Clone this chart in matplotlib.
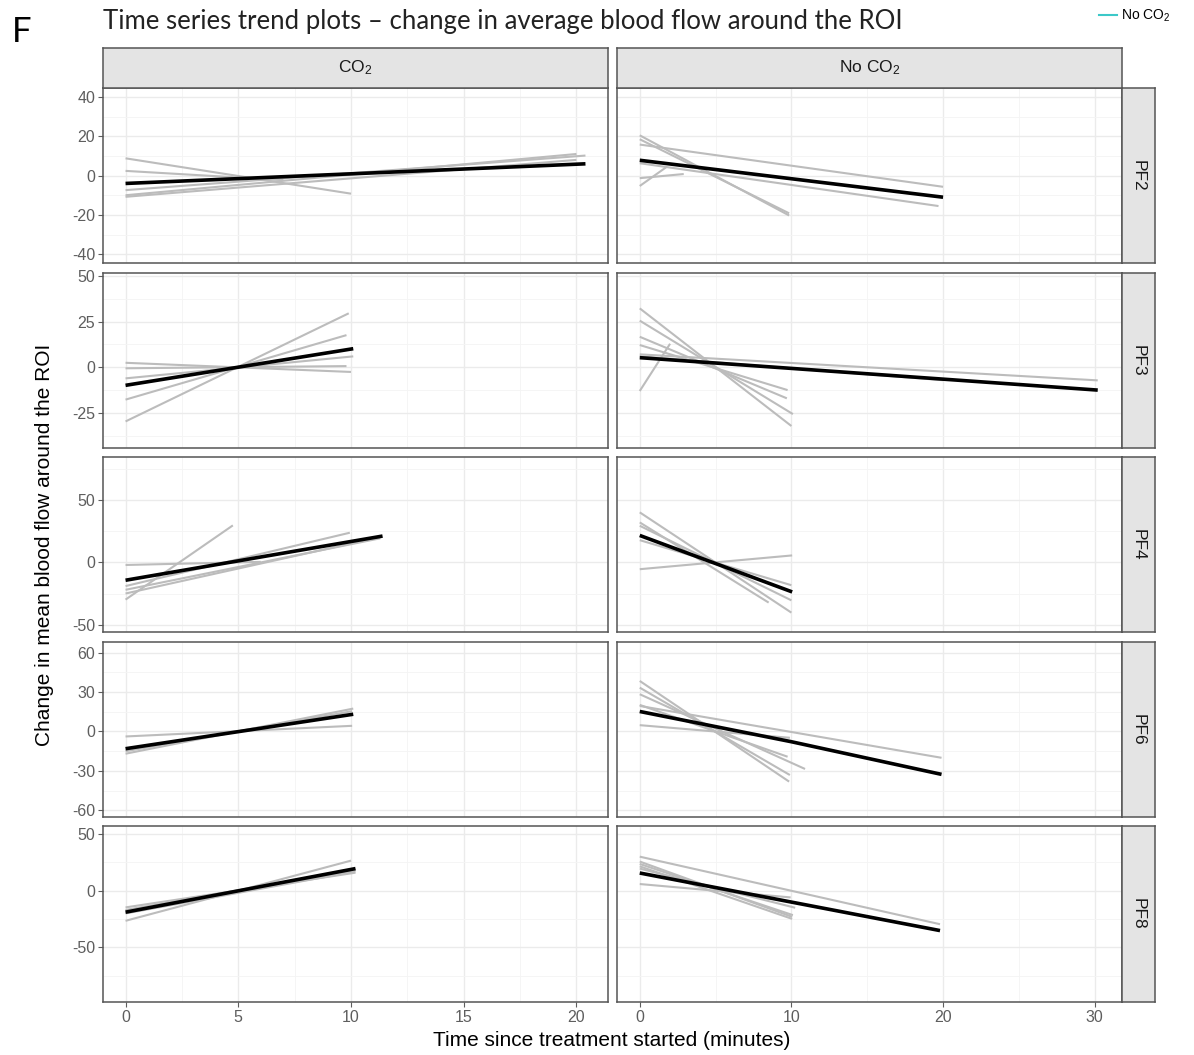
import matplotlib
matplotlib.use("Agg")
import matplotlib.pyplot as plt
from matplotlib.lines import Line2D
from matplotlib.ticker import FixedLocator

plt.rcParams['font.family'] = ['Liberation Sans', 'DejaVu Sans']
plt.rcParams['mathtext.fontset'] = 'custom'
plt.rcParams['mathtext.rm'] = 'Liberation Sans'
plt.rcParams['mathtext.it'] = 'Liberation Sans'
plt.rcParams['axes.unicode_minus'] = False

# ---------------- data ----------------
row_labels = ["PF2", "PF3", "PF4", "PF6", "PF8"]
col_labels = ["CO$_2$", "No CO$_2$"]
legend_label = "No CO$_2$"

x_ticks_co2 = [0, 5, 10, 15, 20]
x_ticks_noco2 = [0, 10, 20, 30]
x_lim_co2 = (-1.0, 21.4)
x_lim_noco2 = (-1.5, 31.8)

y_ticks_pf2 = [-40, -20, 0, 20, 40]
y_ticks_pf3 = [-25, 0, 25, 50]
y_ticks_pf4 = [-50, 0, 50]
y_ticks_pf6 = [-60, -30, 0, 30, 60]
y_ticks_pf8 = [-50, 0, 50]
y_lim_pf2 = (-44.5, 44.6)
y_lim_pf3 = (-44.0, 51.5)
y_lim_pf4 = (-56.0, 85.0)
y_lim_pf6 = (-65.0, 68.0)
y_lim_pf8 = (-98.0, 57.0)

# individual trend lines: (x_start, x_end, y_start, y_end)
pf2_co2_gray = [(0, 10, 8.8, -9.2), (0, 7, 2.4, -2.3), (0, 20.4, -7.4, 10.2),
                (0, 20, -10.0, 11.0), (0, 20, -10.8, 8.0)]
pf2_noco2_gray = [(0, 9.85, 20.5, -20.3), (0, 9.85, 18.5, -19.2), (0, 20, 15.8, -5.7),
                  (0, 19.7, 6.3, -15.5), (0, 1.75, -5.3, 4.3), (0, 2.9, -1.3, 0.8)]
pf3_co2_gray = [(0, 9.9, -29.5, 29.5), (0, 9.8, -17.6, 17.6), (0, 10.1, -6.0, 6.0),
                (0, 9.8, -0.5, 0.7), (0, 10.0, 2.5, -2.5)]
pf3_noco2_gray = [(0, 30.2, 7.1, -7.1), (0, 20, 6.0, -7.0), (0, 10, 32.2, -32.0),
                  (0, 10.1, 25.5, -25.5), (0, 9.7, 16.7, -16.9), (0, 9.75, 12.2, -12.4),
                  (0, 2.0, -12.9, 12.9)]
pf4_co2_gray = [(0, 4.76, -29.9, 29.9), (0, 9.95, -19.0, 24.0), (0, 11.3, -22.0, 19.5),
                (0, 11.3, -25.0, 20.5), (0, 6.0, -2.0, 0.5)]
pf4_noco2_gray = [(0, 10, 40.4, -40.4), (0, 8.5, 32.3, -32.3), (0, 10, 29.6, -30.5),
                  (0, 10, 18.0, -18.3), (0, 10.05, -5.4, 5.7)]
pf6_co2_gray = [(0, 10.1, -16.9, 17.4), (0, 10.05, -15.0, 15.4), (0, 10.05, -3.8, 4.3)]
pf6_noco2_gray = [(0, 19.9, 19.4, -20.0), (0, 9.85, 38.4, -38.1), (0, 9.9, 33.3, -33.1),
                  (0, 10.9, 28.3, -28.5), (0, 9.75, 20.2, -19.2), (0, 9.9, 4.8, -4.8)]
pf8_co2_gray = [(0, 10, -26.5, 26.5), (0, 10.2, -14.7, 15.9), (0, 10.2, -17.0, 18.3),
                (0, 10.2, -20.0, 17.0)]
pf8_noco2_gray = [(0, 19.8, 30.0, -29.5), (0, 10.05, 25.7, -23.0), (0, 10.1, 23.6, -21.5),
                  (0, 10.05, 21.5, -24.8), (0, 10.25, 19.5, -15.0), (0, 9.95, 5.9, -5.9)]

# overall trend (black): x points and y points
pf2_co2_x, pf2_co2_y = [0, 20.4], [-4.0, 6.0]
pf2_noco2_x, pf2_noco2_y = [0, 20], [7.8, -11.0]
pf3_co2_x, pf3_co2_y = [0, 10.1], [-9.8, 10.2]
pf3_noco2_x, pf3_noco2_y = [0, 30.2], [5.3, -12.4]
pf4_co2_x, pf4_co2_y = [0, 11.4], [-14.3, 21.3]
pf4_noco2_x, pf4_noco2_y = [0, 10.05], [21.8, -23.7]
pf6_co2_x, pf6_co2_y = [0, 10.1], [-13.1, 13.1]
pf6_noco2_x, pf6_noco2_y = [0, 10, 19.9], [15.2, -7.8, -32.6]
pf8_co2_x, pf8_co2_y = [0, 10.2], [-18.9, 19.5]
pf8_noco2_x, pf8_noco2_y = [0, 19.8], [15.6, -35.1]

gray_sets = [[pf2_co2_gray, pf2_noco2_gray], [pf3_co2_gray, pf3_noco2_gray],
             [pf4_co2_gray, pf4_noco2_gray], [pf6_co2_gray, pf6_noco2_gray],
             [pf8_co2_gray, pf8_noco2_gray]]
black_sets = [[(pf2_co2_x, pf2_co2_y), (pf2_noco2_x, pf2_noco2_y)],
              [(pf3_co2_x, pf3_co2_y), (pf3_noco2_x, pf3_noco2_y)],
              [(pf4_co2_x, pf4_co2_y), (pf4_noco2_x, pf4_noco2_y)],
              [(pf6_co2_x, pf6_co2_y), (pf6_noco2_x, pf6_noco2_y)],
              [(pf8_co2_x, pf8_co2_y), (pf8_noco2_x, pf8_noco2_y)]]
y_ticks_all = [y_ticks_pf2, y_ticks_pf3, y_ticks_pf4, y_ticks_pf6, y_ticks_pf8]
y_lims_all = [y_lim_pf2, y_lim_pf3, y_lim_pf4, y_lim_pf6, y_lim_pf8]
x_ticks_all = [x_ticks_co2, x_ticks_noco2]
x_lims_all = [x_lim_co2, x_lim_noco2]

# ---------------- layout (pixels) ----------------
W, H = 1194, 1055
fig = plt.figure(figsize=(W / 100, H / 100), dpi=100)

col_px = [(103, 608), (617, 1122)]
row_px = [(88, 263), (273, 448), (457, 632), (642, 817), (826, 1002)]
strip_top = (48, 88)
strip_right = (1122, 1155)

BORDER = '#555555'
STRIP = '#e4e4e4'
TICKC = '#5e5e5e'
GRID = '#ebebeb'


def rect(x0, x1, y0, y1):
    return [x0 / W, 1 - y1 / H, (x1 - x0) / W, (y1 - y0) / H]


def minor_positions(ticks):
    step = ticks[1] - ticks[0]
    return [t + step / 2 for t in [ticks[0] - step] + list(ticks)]


for r in range(5):
    for c in range(2):
        ax = fig.add_axes(rect(col_px[c][0], col_px[c][1], row_px[r][0], row_px[r][1]))
        ax.set_xlim(*x_lims_all[c])
        ax.set_ylim(*y_lims_all[r])
        ax.xaxis.set_major_locator(FixedLocator(x_ticks_all[c]))
        ax.yaxis.set_major_locator(FixedLocator(y_ticks_all[r]))
        ax.xaxis.set_minor_locator(FixedLocator(minor_positions(x_ticks_all[c])))
        ax.yaxis.set_minor_locator(FixedLocator(minor_positions(y_ticks_all[r])))
        ax.grid(True, which='major', color=GRID, linewidth=1.0)
        ax.grid(True, which='minor', color='#f4f4f4', linewidth=0.6)
        ax.set_axisbelow(True)
        for s in ax.spines.values():
            s.set_color(BORDER)
            s.set_linewidth(1.1)
        ax.tick_params(which='minor', length=0)
        ax.tick_params(which='major', length=3.5, color=TICKC, width=0.8,
                       labelsize=11.5, labelcolor=TICKC, pad=2)
        if c == 1:
            ax.tick_params(axis='y', length=0, labelleft=False)
        if r < 4:
            ax.tick_params(axis='x', length=0, labelbottom=False)

        for (x0, x1, y0, y1) in gray_sets[r][c]:
            ax.plot([x0, x1], [y0, y1], color='#bcbcbc', linewidth=1.5,
                    solid_capstyle='butt', zorder=2)
        bx, by = black_sets[r][c]
        ax.plot(bx, by, color='black', linewidth=2.6, solid_capstyle='butt', zorder=3)

        # right strips
        if c == 1:
            sax = fig.add_axes(rect(strip_right[0], strip_right[1], row_px[r][0], row_px[r][1]))
            sax.set_facecolor(STRIP)
            sax.set_xticks([])
            sax.set_yticks([])
            for s in sax.spines.values():
                s.set_color(BORDER)
                s.set_linewidth(1.1)
            sax.text(0.5, 0.5, row_labels[r], rotation=-90, ha='center', va='center',
                     fontsize=12.5, color='#1a1a1a', transform=sax.transAxes)

# top strips
for c in range(2):
    sax = fig.add_axes(rect(col_px[c][0], col_px[c][1], strip_top[0], strip_top[1]))
    sax.set_facecolor(STRIP)
    sax.set_xticks([])
    sax.set_yticks([])
    for s in sax.spines.values():
        s.set_color(BORDER)
        s.set_linewidth(1.1)
    sax.text(0.5, 0.5, col_labels[c], ha='center', va='center', fontsize=12.5,
             color='#1a1a1a', transform=sax.transAxes)

# axis titles
fig.text(45 / W, 1 - 545 / H, "Change in mean blood flow around the ROI", rotation=90,
         ha='center', va='center', fontsize=15, color='black')
fig.text(612 / W, 1 - 1040 / H, "Time since treatment started (minutes)",
         ha='center', va='center', fontsize=15, color='black')

# title and panel letter
fig.text(103 / W, 1 - 22 / H, "Time series trend plots \u2013 change in average blood flow around the ROI",
         ha='left', va='center', fontsize=18.5, color='#222222', family=['Lato', 'DejaVu Sans'])
fig.text(12 / W, 1 - 32 / H, "F", ha='left', va='center', fontsize=25, color='black',
         family=['Lato', 'DejaVu Sans'])

# partial legend at top right
fig.legend(handles=[Line2D([], [], color='#3cc8c8', linewidth=1.5)], labels=[legend_label],
           loc='upper right', bbox_to_anchor=(1176 / W, 1 - 2 / H), frameon=False,
           fontsize=10, handlelength=1.3, handletextpad=0.3, borderaxespad=0)

fig.savefig("out.png", dpi=100)
